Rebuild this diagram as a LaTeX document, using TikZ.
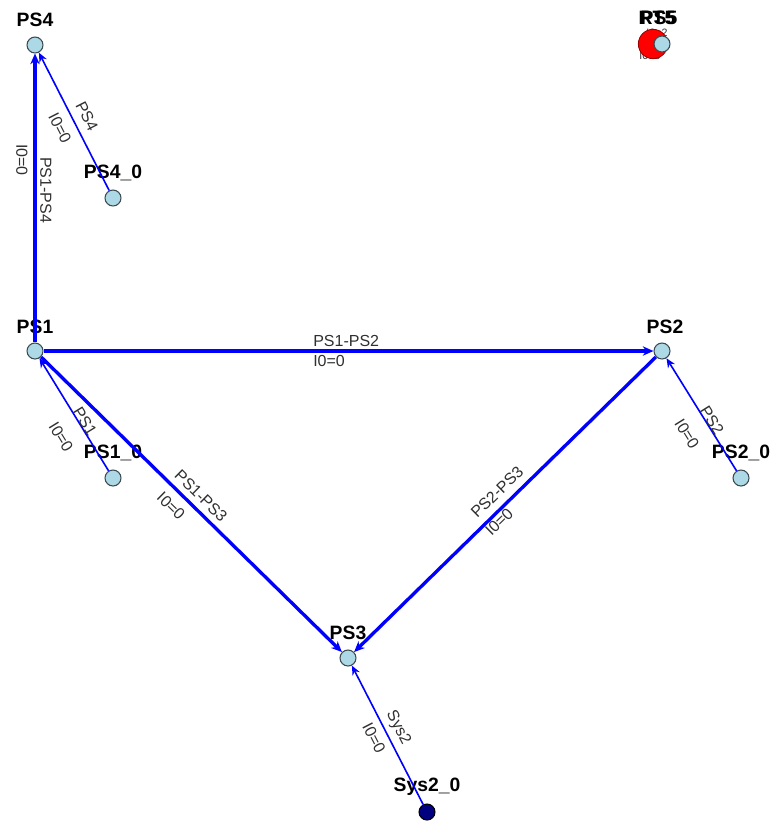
\documentclass[tikz,border=0pt]{standalone}
\usepackage{fontspec}
\setmainfont{Liberation Sans}
\usetikzlibrary{arrows.meta}
\definecolor{nodefill}{HTML}{ADD8E6}
\definecolor{nodeline}{HTML}{3C4A50}
\definecolor{edgeblue}{HTML}{0000FF}
\definecolor{labgray}{HTML}{303030}
\begin{document}
\begin{tikzpicture}[x=0.75pt,y=-0.75pt,
  bus/.style={circle,draw=nodeline,fill=nodefill,line width=0.8pt,minimum size=12pt,inner sep=0pt},
  src/.style={circle,draw=black,fill=blue!50!black,line width=0.8pt,minimum size=12pt,inner sep=0pt},
  busname/.style={font=\bfseries\fontsize{14.5}{15}\selectfont,text=black,inner sep=0pt},
  elab/.style={font=\fontsize{12}{13}\selectfont,text=labgray,inner sep=0pt},
  thickedge/.style={draw=edgeblue,line width=2.5pt,-{Stealth[length=8pt,width=7pt]}},
  thinedge/.style={draw=edgeblue,line width=1.2pt,-{Stealth[length=7pt,width=6pt]}}]
\useasboundingbox (0,0) rectangle (778,822);
% hidden small labels under RT5
\node[elab,font=\fontsize{8}{9}\selectfont] (hidA) at (657,33) {I0=2};
\node[elab,font=\fontsize{8}{9}\selectfont] (hidB) at (650,56) {I0=0};
% buses
\node[bus] (PS4) at (35,45) {};
\node[bus] (PS40) at (113,198) {};
\node[bus] (PS1) at (35,351) {};
\node[bus] (PS2) at (662,351) {};
\node[bus] (PS10) at (113,478) {};
\node[bus] (PS20) at (741,478) {};
\node[bus] (PS3) at (348,658) {};
\node[src] (Sys20) at (427,812) {};
\node[circle,draw=red!60!black,fill=red,minimum size=22pt,inner sep=0pt,line width=0.6pt] (RT5) at (653,44) {};
\node[bus] (PS5) at (662,44) {};
% bus names
\node[busname] (nPS4) at (35,20) {PS4};
\node[busname] (nPS40) at (113,173) {PS4\_0};
\node[busname] (nPS1) at (35,327) {PS1};
\node[busname] (nPS2) at (665,327) {PS2};
\node[busname] (nPS10) at (113,453) {PS1\_0};
\node[busname] (nPS20) at (741,453) {PS2\_0};
\node[busname] (nPS3) at (348,633) {PS3};
\node[busname] (nSys20) at (427,787) {Sys2\_0};
\node[busname] (nRT5) at (657,18) {RT5};
\node[busname] (nPS5) at (659,18) {PS5};
% edges
\draw[thickedge] (PS1) -- (PS4);
\draw[thickedge] (PS1) -- (PS2);
\draw[thickedge] (PS1) -- (PS3);
\draw[thickedge] (PS2) -- (PS3);
\draw[thinedge] (PS40) -- (PS4);
\draw[thinedge] (PS10) -- (PS1);
\draw[thinedge] (PS20) -- (PS2);
\draw[thinedge] (Sys20) -- (PS3);
% edge labels
\node[elab,rotate=-90] (lA1) at (46,190) {PS1-PS4};
\node[elab,rotate=-90] (lA2) at (22,160) {I0=0};
\node[elab,anchor=south west] (lB1) at (313,347) {PS1-PS2};
\node[elab,anchor=north west] (lB2) at (313,355) {I0=0};
\node[elab,rotate=-44.4] (lC1) at (201,496) {PS1-PS3};
\node[elab,rotate=-44.4] (lC2) at (171,506) {I0=0};
\node[elab,rotate=44.4] (lD1) at (497,492) {PS2-PS3};
\node[elab,rotate=44.4] (lD2) at (499,522) {I0=0};
\node[elab,rotate=-63] (lE1) at (87,116) {PS4};
\node[elab,rotate=-63] (lE2) at (60,128) {I0=0};
\node[elab,rotate=-58.4] (lF1) at (85,421) {PS1};
\node[elab,rotate=-58.4] (lF2) at (61,437) {I0=0};
\node[elab,rotate=-58.1] (lG1) at (712,420) {PS2};
\node[elab,rotate=-58.1] (lG2) at (687,434) {I0=0};
\node[elab,rotate=-62.8] (lH1) at (398,728) {Sys2};
\node[elab,rotate=-62.8] (lH2) at (374,738) {I0=0};
\end{tikzpicture}
\end{document}
